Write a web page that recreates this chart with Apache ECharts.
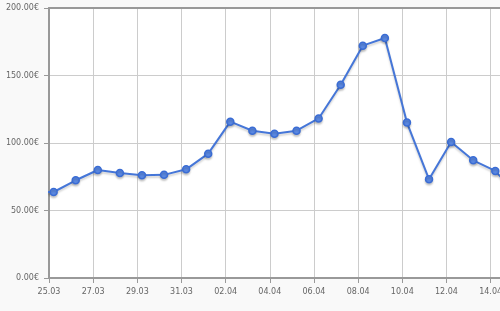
<!DOCTYPE html>
<html>
<head>
<meta charset="utf-8">
<script src="https://cdn.jsdelivr.net/npm/echarts@6/dist/echarts.min.js"></script>
<style>
html,body{margin:0;padding:0;background:#f9f9f9;overflow:hidden;width:500px;height:311px;}
#chart{width:522px;height:311px;}
</style>
</head>
<body>
<div id="chart"></div>
<script>
// Day labels; index 1 = 25.03 (axis origin)
const dates = ["24.03","25.03","26.03","27.03","28.03","29.03","30.03","31.03",
  "01.04","02.04","03.04","04.04","05.04","06.04","07.04","08.04","09.04",
  "10.04","11.04","12.04","13.04","14.04","15.04"];
// Prices in euros, one per day
const prices = [64, 63.7, 72.4, 80.0, 77.8, 76.1, 76.4, 80.5, 92.1, 115.8,
  109.1, 106.9, 109.1, 118.2, 143.2, 172.1, 177.8, 115.1, 73.1, 100.7, 87.2, 79.3, 61];
// Time of day of each sample, as a fraction of a day
const sampleTime = 0.21;
const yTicks = [0, 50, 100, 150, 200];

const seriesData = prices.map((p, i) => [i - 1 + sampleTime, p]);

const chart = echarts.init(document.getElementById('chart'), null, {renderer: 'canvas'});
const gray = '#999999';
chart.setOption({
  backgroundColor: '#f9f9f9',
  animation: false,
  grid: {left: 49, top: 8, right: 0, bottom: 33, show: true, backgroundColor: '#ffffff', borderWidth: 0},
  xAxis: [{
    type: 'value', min: 0, max: 21.42, interval: 2,
    axisLine: {show: true, onZero: false, lineStyle: {color: gray, width: 2}},
    axisTick: {show: true, length: 5, lineStyle: {color: gray}},
    axisLabel: {
      margin: 10, color: '#666', fontFamily: 'DejaVu Sans', fontSize: 8, showMaxLabel: false,
      formatter: v => (Number.isInteger(v) ? dates[v + 1] : '')
    },
    splitLine: {show: true, lineStyle: {color: '#cccccc', width: 1}}
  }, {
    type: 'value', position: 'top', min: 0, max: 21.42,
    axisLine: {show: true, onZero: false, lineStyle: {color: gray, width: 2}},
    axisTick: {show: false}, axisLabel: {show: false}, splitLine: {show: false}
  }],
  yAxis: {
    type: 'value', min: yTicks[0], max: yTicks[yTicks.length - 1], interval: 50,
    axisLine: {show: true, lineStyle: {color: gray, width: 2}},
    axisTick: {show: true, length: 5, lineStyle: {color: gray}},
    axisLabel: {
      margin: 10, color: '#666', fontFamily: 'DejaVu Sans', fontSize: 8,
      formatter: v => v.toFixed(2) + '€'
    },
    splitLine: {show: true, lineStyle: {color: '#cccccc', width: 1}}
  },
  series: [{
    type: 'line', xAxisIndex: 0, data: seriesData, clip: true,
    symbol: 'circle', symbolSize: 7, showSymbol: true,
    lineStyle: {color: '#4576d8', width: 2, shadowColor: 'rgba(0,0,0,0.18)', shadowBlur: 2, shadowOffsetY: 2},
    itemStyle: {color: '#5a88e2', borderColor: '#3a6cd4', borderWidth: 1.5,
      shadowColor: 'rgba(0,0,0,0.18)', shadowBlur: 2, shadowOffsetY: 2}
  }]
});
</script>
</body>
</html>
